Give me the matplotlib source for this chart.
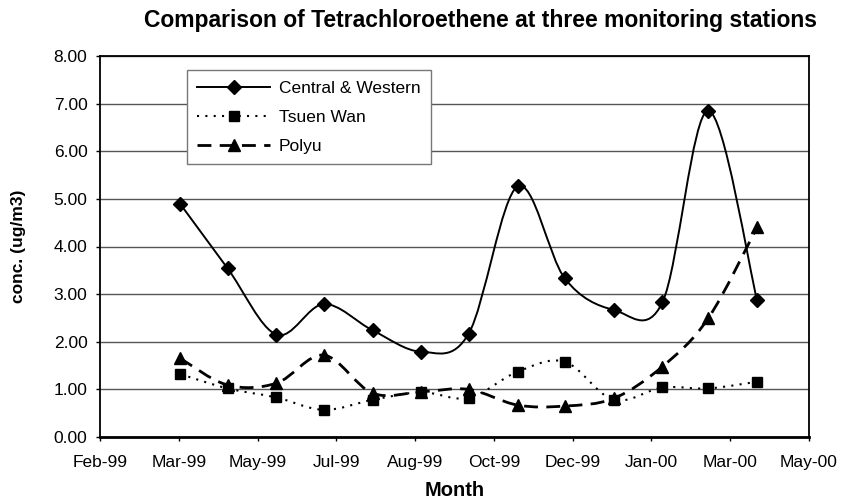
import numpy as np
import pandas as pd
import matplotlib
matplotlib.use("Agg")
import matplotlib.pyplot as plt
import matplotlib.dates as mdates
from matplotlib.path import Path
from matplotlib.patches import PathPatch
from matplotlib.lines import Line2D

plt.rcParams['font.family'] = ['Liberation Sans', 'DejaVu Sans']

# ---- data ----
months = pd.date_range("1999-03-31", "2000-03-31", freq="ME")
central_western = [4.89, 3.54, 2.15, 2.79, 2.24, 1.79, 2.17, 5.26, 3.33, 2.67, 2.83, 6.85, 2.88]
tsuen_wan = [1.32, 1.02, 0.83, 0.57, 0.78, 0.94, 0.82, 1.37, 1.58, 0.78, 1.04, 1.02, 1.16]
polyu = [1.65, 1.09, 1.13, 1.72, 0.92, 0.95, 1.00, 0.67, 0.65, 0.81, 1.48, 2.49, 4.40]
series_names = ["Central & Western", "Tsuen Wan", "Polyu"]
y_ticks = [0, 1, 2, 3, 4, 5, 6, 7, 8]

axis_start = pd.Timestamp("1999-02-08")
tick_dates = [axis_start + pd.Timedelta(days=50 * k) for k in range(10)]

fig = plt.figure(figsize=(8.45, 5.03), dpi=100)
ax = fig.add_axes([100/845, 1-437/503, 709/845, 381/503])


def smooth_path(xs, ys):
    P = np.column_stack([xs, ys])
    n = len(P)
    verts = [P[0]]
    codes = [Path.MOVETO]
    for i in range(n - 1):
        p0 = P[i - 1] if i > 0 else P[i]
        p1 = P[i]
        p2 = P[i + 1]
        p3 = P[i + 2] if i + 2 < n else P[i + 1]
        c1 = p1 + (p2 - p0) / 6.0
        c2 = p2 - (p3 - p1) / 6.0
        verts += [c1, c2, p2]
        codes += [Path.CURVE4] * 3
    return Path(verts, codes)


xnum = mdates.date2num(months.to_pydatetime())
styles = [
    dict(ls='-', lw=1.4, marker='D', ms=7.5),
    dict(ls=(0, (1, 3)), lw=1.5, marker='s', ms=7.5),
    dict(ls=(0, (5, 3)), lw=2.0, marker='^', ms=8.5),
]
data = [central_western, tsuen_wan, polyu]
handles = []
for vals, st, name in zip(data, styles, series_names):
    path = smooth_path(xnum, np.array(vals, dtype=float))
    patch = PathPatch(path, facecolor='none', edgecolor='black', lw=st['lw'],
                      linestyle=st['ls'], transform=ax.transData, zorder=3)
    ax.add_patch(patch)
    ax.plot(months, vals, ls='none', marker=st['marker'], ms=st['ms'],
            color='black', zorder=4)
    handles.append(Line2D([], [], color='black', ls=st['ls'], lw=st['lw'],
                          marker=st['marker'], ms=st['ms']))

ax.set_xlim(tick_dates[0], tick_dates[-1])
ax.set_ylim(0, 8)
ax.set_xticks(tick_dates)
ax.xaxis.set_major_formatter(mdates.DateFormatter('%b-%y'))
ax.set_yticks(y_ticks)
ax.set_yticklabels([f"{v:.2f}" for v in y_ticks])
ax.tick_params(axis='both', labelsize=12.5, length=3, direction='out', width=1)
ax.tick_params(axis='x', pad=10)
ax.tick_params(axis='y', pad=6)
ax.grid(axis='y', color='#555555', lw=1.0)
ax.set_axisbelow(True)
for s in ax.spines.values():
    s.set_color('black')
    s.set_linewidth(1.3)
ax.spines['bottom'].set_linewidth(2.0)

ax.set_xlabel('Month', fontsize=14.5, fontweight='bold', labelpad=8)
ax.set_ylabel('conc. (ug/m3)', fontsize=12.5, fontweight='bold', labelpad=20)
fig.text(481/845, 1-20/503, 'Comparison of Tetrachloroethene at three monitoring stations',
         ha='center', va='center', fontsize=16.5, fontweight='bold')

leg = ax.legend(handles, series_names, loc='upper left', bbox_to_anchor=(0.11, 0.985),
                fontsize=12.5, numpoints=1, handlelength=4.2, handletextpad=0.5,
                fancybox=False, framealpha=1, edgecolor='#777777', borderpad=0.6,
                labelspacing=0.8)
leg.get_frame().set_linewidth(1.0)

fig.savefig('out.png', dpi=100)
